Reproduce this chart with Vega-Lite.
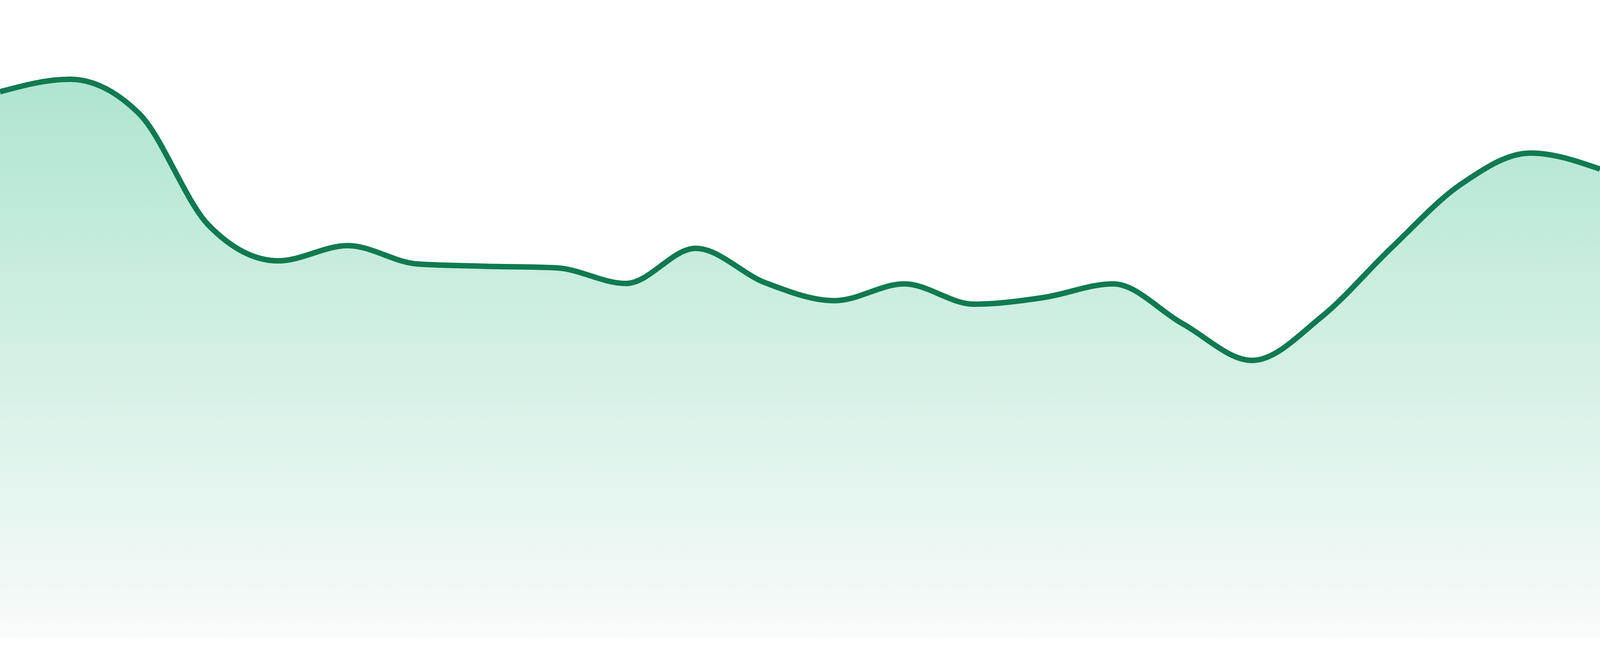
{
  "$schema": "https://vega.github.io/schema/vega-lite/v6.json",
  "width": "container",
  "height": 1632,
  "autosize": {"type": "fit-x", "contains": "padding"},
  "padding": 0,
  "background": "white",
  "config": {"view": {"stroke": null}},
  "data": {
    "values": [
      {"i": 0, "value": 1397},
      {"i": 1, "value": 1429},
      {"i": 2, "value": 1341},
      {"i": 3, "value": 1055},
      {"i": 4, "value": 964},
      {"i": 5, "value": 1003},
      {"i": 6, "value": 956},
      {"i": 7, "value": 950},
      {"i": 8, "value": 946},
      {"i": 9, "value": 906},
      {"i": 10, "value": 996},
      {"i": 11, "value": 908},
      {"i": 12, "value": 862},
      {"i": 13, "value": 905},
      {"i": 14, "value": 853},
      {"i": 15, "value": 870},
      {"i": 16, "value": 905},
      {"i": 17, "value": 803},
      {"i": 18, "value": 709},
      {"i": 19, "value": 821},
      {"i": 20, "value": 997},
      {"i": 21, "value": 1160},
      {"i": 22, "value": 1240},
      {"i": 23, "value": 1199}
    ]
  },
  "encoding": {
    "x": {"field": "i", "type": "quantitative", "axis": null, "scale": {"domain": [0, 23], "nice": false, "zero": false}},
    "y": {"field": "value", "type": "quantitative", "axis": null, "scale": {"domain": [0, 1632], "nice": false}}
  },
  "layer": [
    {
      "mark": {
        "type": "area",
        "interpolate": "monotone",
        "clip": true,
        "color": {
          "gradient": "linear",
          "x1": 1, "y1": 1, "x2": 1, "y2": 0,
          "stops": [
            {"offset": 0, "color": "#f8fbfa"},
            {"offset": 1, "color": "#afe5d0"}
          ]
        }
      }
    },
    {
      "mark": {"type": "line", "interpolate": "monotone", "clip": true, "color": "#107a50", "strokeWidth": 14}
    }
  ]
}
